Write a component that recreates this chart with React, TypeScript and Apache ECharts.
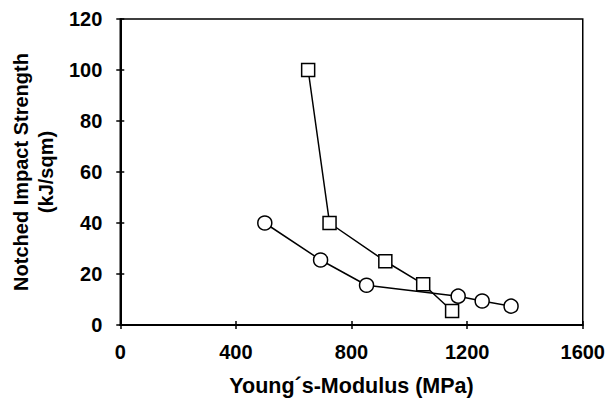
import React, { useEffect, useRef } from "react";
import * as echarts from "echarts";

const squareX = [650, 724, 917, 1048, 1148];
const squareY = [100, 40, 25, 16, 5.5];
const circleX = [500, 693, 852, 1169, 1252, 1352];
const circleY = [40, 25.5, 15.6, 11.3, 9.4, 7.4];

const xTicks = { min: 0, max: 1600, interval: 400 };
const yTicks = { min: 0, max: 120, interval: 20 };

const FONT = "Arial, 'Liberation Sans', Helvetica, sans-serif";

export default function App() {
  const ref = useRef<HTMLDivElement>(null);
  useEffect(() => {
    if (!ref.current) return;
    const chart = echarts.init(ref.current, null, { renderer: "svg" });
    const circles = circleX.map((x, i) => [x, circleY[i]]);
    const squares = squareX.map((x, i) => [x, squareY[i]]);
    const fmt = (v: number) => String(v);
    chart.setOption({
      animation: false,
      backgroundColor: "#ffffff",
      grid: {
        left: 119,
        right: 25,
        top: 19,
        bottom: 76,
        show: true,
        borderColor: "#000",
        borderWidth: 1.5,
        backgroundColor: "transparent",
      },
      xAxis: [
        {
          type: "value",
          ...xTicks,
          position: "bottom",
          name: "Young´s-Modulus (MPa)",
          nameLocation: "middle",
          nameGap: 50,
          nameTextStyle: { fontFamily: FONT, fontWeight: "bold", fontSize: 21.5, color: "#000" },
          axisLine: { show: true, onZero: false, lineStyle: { color: "#000", width: 2 } },
          axisTick: { show: true, inside: false, length: 4, lineStyle: { color: "#000", width: 1.5 } },
          axisLabel: { margin: 17, formatter: fmt, fontFamily: FONT, fontWeight: "bold", fontSize: 20, color: "#000" },
          splitLine: { show: false },
        },
        {
          type: "value",
          ...xTicks,
          position: "bottom",
          axisLine: { show: false, onZero: false },
          axisTick: { show: true, inside: true, length: 4, lineStyle: { color: "#000", width: 1.5 } },
          axisLabel: { show: false },
          splitLine: { show: false },
        },
      ],
      yAxis: [
        {
          type: "value",
          ...yTicks,
          position: "left",
          name: "Notched Impact Strength\n(kJ/sqm)",
          nameLocation: "middle",
          nameRotate: 90,
          nameGap: 59,
          nameTextStyle: { fontFamily: FONT, fontWeight: "bold", fontSize: 20, lineHeight: 25, color: "#000", align: "center" },
          axisLine: { show: true, onZero: false, lineStyle: { color: "#000", width: 2 } },
          axisTick: { show: true, inside: false, length: 4, lineStyle: { color: "#000", width: 1.5 } },
          axisLabel: { margin: 18, formatter: fmt, fontFamily: FONT, fontWeight: "bold", fontSize: 20, color: "#000" },
          splitLine: { show: false },
        },
        {
          type: "value",
          ...yTicks,
          position: "left",
          axisLine: { show: false, onZero: false },
          axisTick: { show: true, inside: true, length: 4, lineStyle: { color: "#000", width: 1.5 } },
          axisLabel: { show: false },
          splitLine: { show: false },
        },
      ],
      series: [
        {
          type: "line",
          data: circles,
          xAxisIndex: 0,
          yAxisIndex: 0,
          symbol: "circle",
          symbolSize: 14,
          lineStyle: { color: "#000", width: 1.5 },
          itemStyle: { color: "#fff", borderColor: "#000", borderWidth: 1.5 },
        },
        {
          type: "line",
          data: squares,
          xAxisIndex: 0,
          yAxisIndex: 0,
          symbol: "rect",
          symbolSize: 13,
          lineStyle: { color: "#000", width: 1.5 },
          itemStyle: { color: "#fff", borderColor: "#000", borderWidth: 1.5 },
        },
      ],
    });
    return () => chart.dispose();
  }, []);
  return <div ref={ref} style={{ width: 608, height: 402, position: "absolute", left: 0, top: 0 }} />;
}
